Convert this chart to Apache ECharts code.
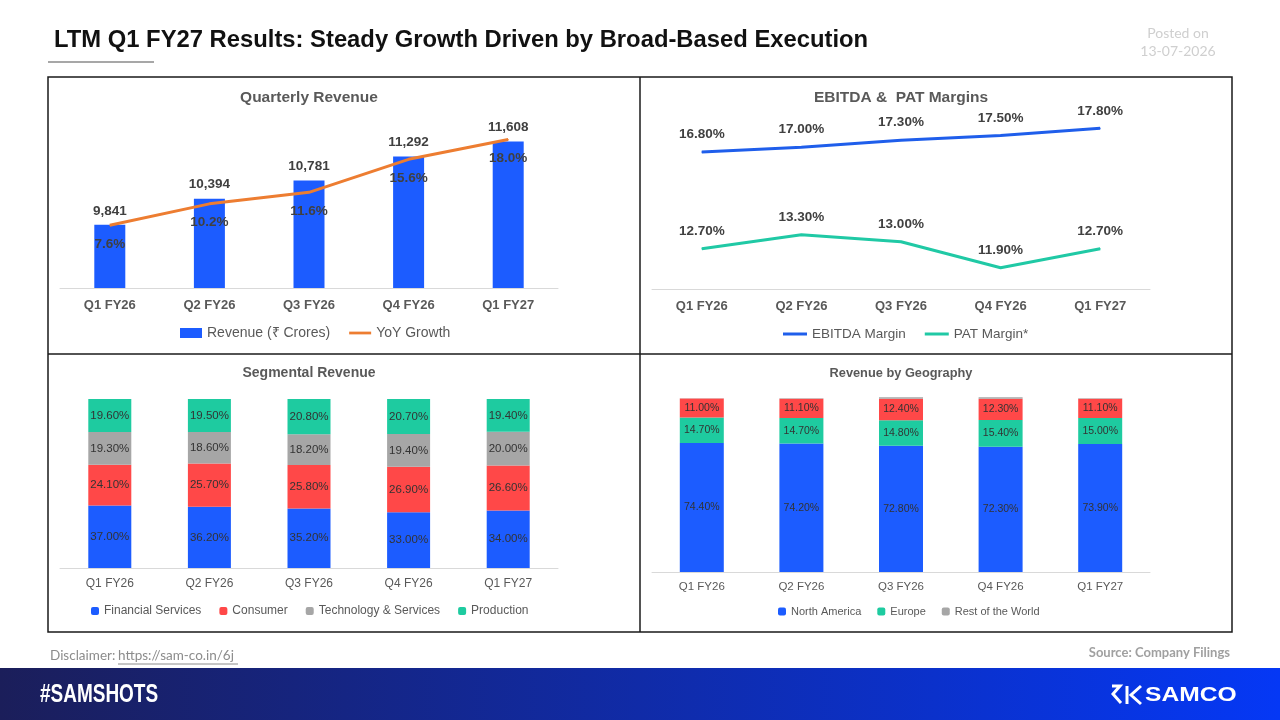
<!DOCTYPE html>
<html><head><meta charset="utf-8">
<script src="https://cdn.jsdelivr.net/npm/echarts@6/dist/echarts.min.js"></script>
<style>html,body{margin:0;padding:0;background:#fff}#c{width:1280px;height:720px}</style>
</head><body><div id="c"></div>
<script>
// ---- data ----
const quarters = ['Q1 FY26', 'Q2 FY26', 'Q3 FY26', 'Q4 FY26', 'Q1 FY27'];
const revenue = [9841, 10394, 10781, 11292, 11608];
const yoyGrowth = [7.6, 10.2, 11.6, 15.6, 18.0];
const ebitdaMargin = [16.8, 17.0, 17.3, 17.5, 17.8];
const patMargin = [12.7, 13.3, 13.0, 11.9, 12.7];
const segFinancial = [37.0, 36.2, 35.2, 33.0, 34.0];
const segConsumer = [24.1, 25.7, 25.8, 26.9, 26.6];
const segTech = [19.3, 18.6, 18.2, 19.4, 20.0];
const segProduction = [19.6, 19.5, 20.8, 20.7, 19.4];
const geoNorthAmerica = [74.4, 74.2, 72.8, 72.3, 73.9];
const geoEurope = [14.7, 14.7, 14.8, 15.4, 15.0];
const geoOther = [11.0, 11.1, 12.4, 12.3, 11.1];
const geoRestOfWorld = [0.2, 0.3, 0.8, 0.8, 0.3];

const N = '"Liberation Sans", Arial, sans-serif';
const BLUE = '#1C5CFF', ORANGE = '#ED7D31', TEAL = '#1ECBA0', RED = '#FF4848', GRAY = '#A6A6A6';
const LBL = '#404040', AX = '#595959';

const chart = echarts.init(document.getElementById('c'));

function xCat(grid, size, bold, margin) {
  return {
    type: 'category', gridIndex: grid, data: quarters,
    axisTick: { show: false },
    axisLine: { lineStyle: { color: '#D9D9D9', width: 1 } },
    axisLabel: { fontFamily: N, fontSize: size, fontWeight: bold ? 'bold' : 'normal', color: AX, margin: margin }
  };
}
function yVal(grid, min, max) {
  return { type: 'value', gridIndex: grid, min: min, max: max, show: false, splitLine: { show: false } };
}
const pct2 = p => p.value.toFixed(2) + '%';

function txt(x, y, text, font, fill, align, extra) {
  return Object.assign({
    type: 'text', x: x, y: y, silent: true,
    style: { text: text, font: font, fill: fill, align: align || 'left', verticalAlign: 'middle' }
  }, extra || {});
}
const LINE_ICON = 'path://M0,0 H24 V3 H0 Z';

const option = {
  animation: false,
  backgroundColor: '#fff',
  textStyle: { fontFamily: N },
  grid: [
    { left: 60, right: 722, top: 123, bottom: 432 },
    { left: 652, right: 130, top: 100, bottom: 431 },
    { left: 60, right: 722, top: 399, bottom: 152 },
    { left: 652, right: 130, top: 397, bottom: 148 }
  ],
  xAxis: [xCat(0, 13, true, 11), xCat(1, 13, true, 11), xCat(2, 12, false, 10), xCat(3, 11.5, false, 9)],
  yAxis: [yVal(0, 8500, 12000), yVal(0, 0, 20), yVal(1, 11, 19), yVal(2, 0, 100), yVal(3, 0, 101)],
  legend: [
    { left: 180, top: 326, padding: 0, itemWidth: 22, itemHeight: 10, itemGap: 19, selectedMode: false,
      textStyle: { fontFamily: N, fontSize: 14, color: AX },
      data: [{ name: 'Revenue (₹ Crores)', icon: 'rect' }, { name: 'YoY Growth', icon: LINE_ICON }] },
    { left: 783, top: 327, padding: 0, itemWidth: 24, itemHeight: 10, itemGap: 19, selectedMode: false,
      textStyle: { fontFamily: N, fontSize: 13.5, color: AX },
      data: [{ name: 'EBITDA Margin', icon: LINE_ICON }, { name: 'PAT Margin*', icon: LINE_ICON }] },
    { left: 91, top: 605, padding: 0, itemWidth: 8, itemHeight: 8, itemGap: 18, selectedMode: false,
      textStyle: { fontFamily: N, fontSize: 12, color: AX },
      data: ['Financial Services', 'Consumer', 'Technology & Services', 'Production'] },
    { left: 778, top: 606, padding: 0, itemWidth: 8, itemHeight: 8, itemGap: 16, selectedMode: false,
      textStyle: { fontFamily: N, fontSize: 11, color: AX },
      data: ['North America', 'Europe', 'Rest of the World'] }
  ],
  series: [
    { name: 'Revenue (₹ Crores)', type: 'bar', xAxisIndex: 0, yAxisIndex: 0, data: revenue, barWidth: 31,
      itemStyle: { color: BLUE },
      label: { show: true, position: 'top', distance: 7, fontFamily: N, fontSize: 13.5, fontWeight: 'bold', color: LBL,
        formatter: p => p.value.toLocaleString('en-US') } },
    { name: 'YoY Growth', type: 'line', xAxisIndex: 0, yAxisIndex: 1, data: yoyGrowth, symbol: 'circle', symbolSize: 1,
      itemStyle: { color: ORANGE }, lineStyle: { color: ORANGE, width: 3 }, z: 5,
      label: { show: true, position: 'bottom', distance: 11, fontFamily: N, fontSize: 13.5, fontWeight: 'bold', color: LBL,
        formatter: p => p.value.toFixed(1) + '%' } },
    { name: 'EBITDA Margin', type: 'line', xAxisIndex: 1, yAxisIndex: 2, data: ebitdaMargin, symbol: 'circle', symbolSize: 1,
      itemStyle: { color: '#1F5EEB' }, lineStyle: { color: '#1F5EEB', width: 3 },
      label: { show: true, position: 'top', distance: 10, fontFamily: N, fontSize: 13.5, fontWeight: 'bold', color: LBL, formatter: pct2 } },
    { name: 'PAT Margin*', type: 'line', xAxisIndex: 1, yAxisIndex: 2, data: patMargin, symbol: 'circle', symbolSize: 1,
      itemStyle: { color: '#20C9A5' }, lineStyle: { color: '#20C9A5', width: 3 },
      label: { show: true, position: 'top', distance: 10, fontFamily: N, fontSize: 13.5, fontWeight: 'bold', color: LBL, formatter: pct2 } },
    { name: 'Financial Services', type: 'bar', stack: 'seg', xAxisIndex: 2, yAxisIndex: 3, data: segFinancial, barWidth: 43,
      itemStyle: { color: BLUE }, label: { show: true, position: 'inside', fontFamily: N, fontSize: 11.5, color: '#333', formatter: pct2 } },
    { name: 'Consumer', type: 'bar', stack: 'seg', xAxisIndex: 2, yAxisIndex: 3, data: segConsumer, barWidth: 43,
      itemStyle: { color: RED }, label: { show: true, position: 'inside', fontFamily: N, fontSize: 11.5, color: '#333', formatter: pct2 } },
    { name: 'Technology & Services', type: 'bar', stack: 'seg', xAxisIndex: 2, yAxisIndex: 3, data: segTech, barWidth: 43,
      itemStyle: { color: GRAY }, label: { show: true, position: 'inside', fontFamily: N, fontSize: 11.5, color: '#333', formatter: pct2 } },
    { name: 'Production', type: 'bar', stack: 'seg', xAxisIndex: 2, yAxisIndex: 3, data: segProduction, barWidth: 43,
      itemStyle: { color: TEAL }, label: { show: true, position: 'inside', fontFamily: N, fontSize: 11.5, color: '#333', formatter: pct2 } },
    { name: 'North America', type: 'bar', stack: 'geo', xAxisIndex: 3, yAxisIndex: 4, data: geoNorthAmerica, barWidth: 44,
      itemStyle: { color: BLUE }, label: { show: true, position: 'inside', fontFamily: N, fontSize: 10.5, color: '#333', formatter: pct2 } },
    { name: 'Europe', type: 'bar', stack: 'geo', xAxisIndex: 3, yAxisIndex: 4, data: geoEurope, barWidth: 44,
      itemStyle: { color: TEAL }, label: { show: true, position: 'inside', fontFamily: N, fontSize: 10.5, color: '#333', formatter: pct2 } },
    { name: 'Other Regions', type: 'bar', stack: 'geo', xAxisIndex: 3, yAxisIndex: 4, data: geoOther, barWidth: 44,
      itemStyle: { color: RED }, label: { show: true, position: 'inside', fontFamily: N, fontSize: 10.5, color: '#333', formatter: pct2 } },
    { name: 'Rest of the World', type: 'bar', stack: 'geo', xAxisIndex: 3, yAxisIndex: 4, data: geoRestOfWorld, barWidth: 44,
      itemStyle: { color: GRAY } }
  ],
  graphic: [
    // main title
    txt(54, 40, 'LTM Q1 FY27 Results: Steady Growth Driven by Broad-Based Execution', 'bold 23.8px ' + N, '#111'),
    { type: 'line', silent: true, shape: { x1: 48, y1: 62, x2: 154, y2: 62 }, style: { stroke: '#8a8a8a', lineWidth: 1.5 } },
    txt(1178, 33, 'Posted on', '14px Lato, sans-serif', '#CFCFCF', 'center'),
    txt(1178, 51, '13-07-2026', '14px Lato, sans-serif', '#CFCFCF', 'center'),
    // panels
    { type: 'rect', silent: true, shape: { x: 48, y: 77, width: 1184, height: 555 }, style: { fill: 'none', stroke: '#1a1a1a', lineWidth: 1.5 } },
    { type: 'line', silent: true, shape: { x1: 640, y1: 77, x2: 640, y2: 632 }, style: { stroke: '#1a1a1a', lineWidth: 1.5 } },
    { type: 'line', silent: true, shape: { x1: 48, y1: 354, x2: 1232, y2: 354 }, style: { stroke: '#1a1a1a', lineWidth: 1.5 } },
    // panel titles
    txt(309, 98, 'Quarterly Revenue', 'bold 15.5px ' + N, AX, 'center'),
    txt(901, 98, 'EBITDA &  PAT Margins', 'bold 15.5px ' + N, AX, 'center'),
    txt(309, 373, 'Segmental Revenue', 'bold 14px ' + N, AX, 'center'),
    txt(901, 373, 'Revenue by Geography', 'bold 12.8px ' + N, AX, 'center'),
    // footer
    txt(50, 656, 'Disclaimer: ', '13.5px Lato, sans-serif', '#8C8C8C'),
    txt(118, 656, 'https://sam-co.in/6j', '13.5px Lato, sans-serif', '#8C8C8C'),
    { type: 'line', silent: true, shape: { x1: 118, y1: 664, x2: 238, y2: 664 }, style: { stroke: '#8C8C8C', lineWidth: 1 } },
    txt(1230, 653, 'Source: Company Filings', 'bold 13px Lato, sans-serif', '#A0A0A0', 'right'),
    { type: 'rect', silent: true, shape: { x: 0, y: 668, width: 1280, height: 52 },
      style: { fill: { type: 'linear', x: 0, y: 0, x2: 1, y2: 0, colorStops: [{ offset: 0, color: '#1B1E5A' }, { offset: 1, color: '#0538F5' }] } } },
    txt(40, 695, '#SAMSHOTS', 'bold 26px ' + N, '#fff', 'left', { scaleX: 0.73, originX: 0, originY: 0 }),
    txt(1145, 695, 'SAMCO', 'bold 20px ' + N, '#fff', 'left', { scaleX: 1.23, originX: 0, originY: 0 }),
    { type: 'polyline', silent: true, shape: { points: [[1112, 686], [1120, 686], [1113, 694], [1121, 703]] }, style: { fill: 'none', stroke: '#fff', lineWidth: 3 } },
    { type: 'polyline', silent: true, shape: { points: [[1141, 686], [1131, 695], [1141, 704]] }, style: { fill: 'none', stroke: '#fff', lineWidth: 3 } },
    { type: 'line', silent: true, shape: { x1: 1127, y1: 686, x2: 1127, y2: 704 }, style: { stroke: '#fff', lineWidth: 3 } }
  ]
};
chart.setOption(option);
</script></body></html>
